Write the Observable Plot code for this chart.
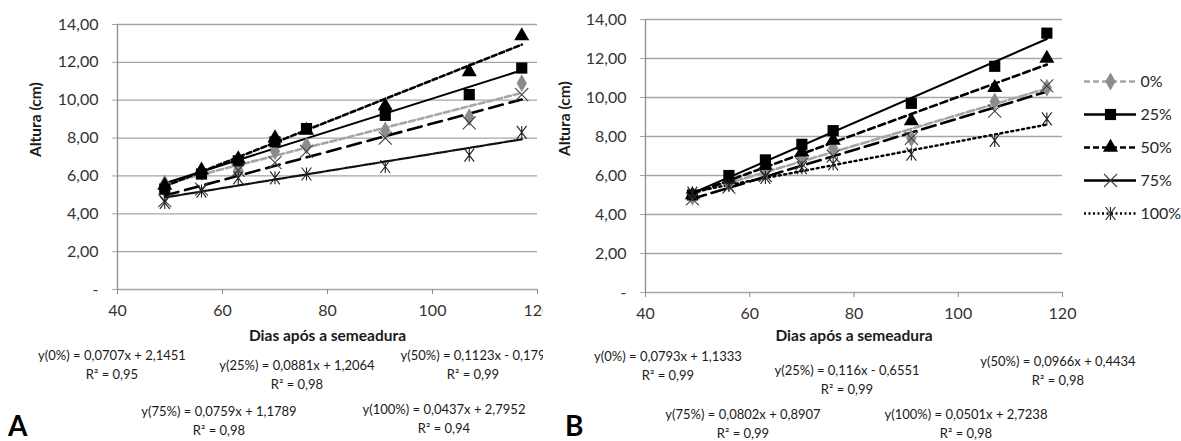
<!DOCTYPE html>
<html><head><meta charset="utf-8">
<script src="https://cdn.jsdelivr.net/npm/d3@7"></script>
<script src="https://cdn.jsdelivr.net/npm/@observablehq/plot@0.6"></script>
<style>
body{margin:0;background:#fff;}
#root{position:relative;width:1181px;height:441px;overflow:hidden;font-family:Lato,"Open Sans",sans-serif;background:#fff;color:#262626}
.panel{position:absolute;top:0;height:441px;overflow:hidden}
.panel svg, #legend svg{max-width:none !important}
.eq{position:absolute;transform:translateX(-50%);white-space:nowrap;text-align:center;font-size:13px;line-height:19px;color:#1a1a1a}
.tag{position:absolute;font-weight:bold;font-size:28px;line-height:28px;color:#000}
</style></head><body><div id="root"></div>
<script>
// ---------- data ----------
const days = [49, 56, 63, 70, 76, 91, 107, 117];
const series = ["0%", "25%", "50%", "75%", "100%"];
// Panel A heights (cm)
const a0   = [5.6, 6.2, 6.3, 7.3, 7.6, 8.4, 9.1, 10.9];
const a25  = [5.3, 6.1, 6.8, 7.8, 8.5, 9.2, 10.3, 11.7];
const a50  = [5.5, 6.3, 6.9, 8.0, 8.4, 9.7, 11.5, 13.4];
const a75  = [4.7, 5.3, 6.3, 6.7, 7.3, 8.0, 8.8, 10.3];
const a100 = [4.6, 5.2, 5.9, 5.9, 6.1, 6.5, 7.1, 8.3];
// Panel B heights (cm)
const b0   = [4.9, 5.6, 6.3, 6.9, 7.4, 7.9, 9.8, 10.5];
const b25  = [5.0, 6.0, 6.8, 7.6, 8.3, 9.7, 11.6, 13.3];
const b50  = [5.0, 5.8, 6.5, 7.2, 7.8, 8.8, 10.5, 12.0];
const b75  = [4.8, 5.4, 6.0, 6.6, 7.0, 7.9, 9.3, 10.6];
const b100 = [5.1, 5.5, 5.9, 6.4, 6.6, 7.1, 7.8, 8.9];
const xTicks = [40, 60, 80, 100, 120];
const yTicks = [0, 2, 4, 6, 8, 10, 12, 14];
const yTitle = "Altura (cm)";
const xTitle = "Dias após a semeadura";
const eqA = ["y(0%) = 0,0707x + 2,1451", "y(25%) = 0,0881x + 1,2064", "y(50%) = 0,1123x - 0,179", "y(75%) = 0,0759x + 1,1789", "y(100%) = 0,0437x + 2,7952"];
const r2A = ["R² = 0,95", "R² = 0,98", "R² = 0,99", "R² = 0,98", "R² = 0,94"];
const eqB = ["y(0%) = 0,0793x + 1,1333", "y(25%) = 0,116x - 0,6551", "y(50%) = 0,0966x + 0,4434", "y(75%) = 0,0802x + 0,8907", "y(100%) = 0,0501x + 2,7238"];
const r2B = ["R² = 0,99", "R² = 0,99", "R² = 0,98", "R² = 0,99", "R² = 0,98"];
const tags = ["A", "B"];

// ---------- styles / layout ----------
const timesSym = {draw(ctx, size){const r = Math.sqrt(size/Math.PI); ctx.moveTo(-r,-r); ctx.lineTo(r,r); ctx.moveTo(-r,r); ctx.lineTo(r,-r);}};
const starSym = {draw(ctx, size){const r = Math.sqrt(size/Math.PI), a = r*0.75; ctx.moveTo(-a,-r); ctx.lineTo(a,r); ctx.moveTo(-a,r); ctx.lineTo(a,-r); ctx.moveTo(0,-r); ctx.lineTo(0,r);}};
const markers = [
  {symbol: "diamond", r: 5.4, fill: "#8c8c8c", stroke: "none"},
  {symbol: "square", r: 6.3, fill: "#000", stroke: "none"},
  {symbol: "triangle", r: 5.6, fill: "#000", stroke: "none"},
  {symbol: timesSym, r: 6.5, fill: "none", stroke: "#404040", strokeWidth: 1.1},
  {symbol: starSym, r: 6.5, fill: "none", stroke: "#202020", strokeWidth: 1.1}
];
const trendA = [
  {stroke: "#a6a6a6", w: 2.6, dash: "6,3"},
  {stroke: "#000", w: 2, dash: null},
  {stroke: "#000", w: 2.6, dash: "5,3"},
  {stroke: "#000", w: 2.6, dash: "14,7"},
  {stroke: "#111", w: 2.2, dash: "1.8,1.6"}
];
const trendB = [
  {stroke: "#a6a6a6", w: 2.6, dash: "8,3"},
  {stroke: "#000", w: 2, dash: null},
  {stroke: "#000", w: 2.6, dash: "7,4"},
  {stroke: "#000", w: 2.6, dash: "14,6"},
  {stroke: "#000", w: 2.4, dash: "2,3.5"}
];
const legendLines = [
  {stroke: "#a6a6a6", w: 2.6, dash: "6,3"},
  {stroke: "#000", w: 2.4, dash: null},
  {stroke: "#000", w: 2.6, dash: "6,3"},
  {stroke: "#000", w: 2.4, dash: null},
  {stroke: "#000", w: 2.4, dash: "2,2.5"}
];
const fmtY = d => d === 0 ? "-" : d3.format(".2f")(d).replace(".", ",");

function panel(vals, trends, L) {
  const rows = series.flatMap((s, i) => days.map((d, j) => ({serie: s, day: d, h: vals[i][j]})));
  const bySerie = s => rows.filter(r => r.serie === s);
  return Plot.plot({
    width: L.width, height: L.height,
    marginLeft: L.ml, marginRight: L.mr, marginTop: L.mt, marginBottom: L.mb,
    style: {fontFamily: "Lato, 'Open Sans', sans-serif", background: "transparent", overflow: "visible", maxWidth: "none"},
    x: {domain: [40, 120], axis: null},
    y: {domain: [0, 14], axis: null},
    marks: [
      Plot.gridY(yTicks, {stroke: "#a6a6a6", strokeOpacity: 1, strokeWidth: 1.3}),
      Plot.ruleX([40], {stroke: "#8c8c8c", strokeWidth: 1.3}),
      Plot.axisY(yTicks, {tickSize: 5, tickPadding: 14, tickFormat: fmtY, fontSize: 16, stroke: "#a6a6a6", fill: "#333", label: null}),
      Plot.axisX(xTicks, {tickSize: 5, tickPadding: 10, fontSize: 16, stroke: "#8c8c8c", fill: "#333", label: null}),
      Plot.text([yTitle], {frameAnchor: "left", dx: L.ytdx, rotate: -90, fontSize: 15.5, fontWeight: "bold", fill: "#1a1a1a"}),
      Plot.text([xTitle], {frameAnchor: "bottom", dy: L.xtdy, fontSize: 15.5, fontWeight: "bold", fill: "#1a1a1a"}),
      ...series.map((s, i) => Plot.linearRegressionY(bySerie(s), {x: "day", y: "h", ci: 0, stroke: trends[i].stroke, strokeWidth: trends[i].w, strokeDasharray: trends[i].dash})),
      ...series.map((s, i) => Plot.dot(bySerie(s), {x: "day", y: "h", ...markers[i]}))
    ]
  });
}

const root = document.getElementById("root");
function addPanel(left, width, vals, trends, L, eqs, r2s, eqPos, tag, tagPos) {
  const div = document.createElement("div");
  div.className = "panel"; div.style.left = left + "px"; div.style.width = width + "px";
  div.appendChild(panel(vals, trends, L));
  eqs.forEach((e, i) => {
    const d = document.createElement("div");
    d.className = "eq";
    d.style.left = eqPos[i][0] + "px"; d.style.top = eqPos[i][1] + "px";
    d.innerHTML = e + "<br>" + r2s[i];
    div.appendChild(d);
  });
  const t = document.createElement("div");
  t.className = "tag"; t.textContent = tag;
  t.style.left = tagPos[0] + "px"; t.style.top = tagPos[1] + "px";
  div.appendChild(t);
  root.appendChild(div);
}

addPanel(0, 543, [a0, a25, a50, a75, a100], trendA,
  {width: 560, height: 335, ml: 117, mr: 23, mt: 24, mb: 46, ytdx: -81, xtdy: 51},
  eqA, r2A, [[112, 346], [297, 356], [473, 346], [219, 402], [444, 400]], tags[0], [8, 411]);

addPanel(543, 638, [b0, b25, b50, b75, b100], trendB,
  {width: 540, height: 340, ml: 102, mr: 21, mt: 19, mb: 48, ytdx: -80, xtdy: 48},
  eqB, r2B, [[668-543, 347], [847-543, 361], [1058-543, 352], [743-543, 405], [966-543, 405]], tags[1], [565-543, 411]);

// legend
const leg = Plot.plot({
  width: 100, height: 170, margin: 0,
  style: {fontFamily: "Lato, 'Open Sans', sans-serif", background: "transparent", overflow: "visible", maxWidth: "none"},
  x: {domain: [0, 1], range: [4, 56], axis: null},
  y: {domain: series, range: [21, 153], type: "point", padding: 0, axis: null},
  marks: [
    ...series.map((s, i) => Plot.ruleY([s], {x1: 0, x2: 1, stroke: legendLines[i].stroke, strokeWidth: legendLines[i].w, strokeDasharray: legendLines[i].dash})),
    ...series.map((s, i) => Plot.dot([s], {x: 0.5, y: d => d, ...markers[i]})),
    Plot.text(series, {x: 1, y: d => d, dx: 4, textAnchor: "start", fontSize: 16, fill: "#262626"})
  ]
});
const ld = document.createElement("div");
ld.id = "legend";
ld.style.cssText = "position:absolute;left:1080px;top:60px;";
ld.appendChild(leg);
root.appendChild(ld);
</script></body></html>
